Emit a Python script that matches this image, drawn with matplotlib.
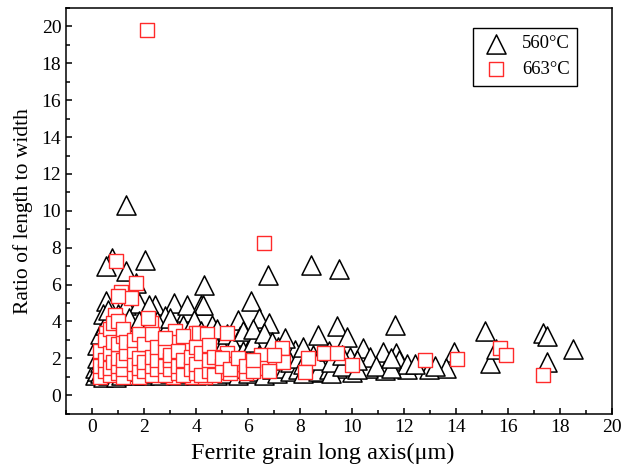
import numpy as np
import matplotlib
matplotlib.use("Agg")
import matplotlib.pyplot as plt
from matplotlib.ticker import MultipleLocator

# 560 C ferrite grains: long axis (um) and length/width ratio
x_560 = [
    1.3, 0.75, 0.55, 2.05, 1.3, 1.7, 4.3, 0.55, 2.4, 3.15, 4.2, 6.1, 3.6, 2.8,
    5.6, 6.4, 6.8, 4.6, 8.7, 9.4, 9.8, 8.4, 9.5, 6.75, 5.7, 7.8, 7.15, 8.95,
    11.65, 15.1, 17.35, 17.5, 18.5, 17.5, 15.3, 10.4, 11.2, 11.7, 13.9, 13.6,
    12.95, 12.1, 11.25, 10.6, 10.0, 9.4, 8.8, 11.8, 12.1, 9.9, 10.7, 15.55,
    6.1, 6.6, 4.25, 1.3, 1.8, 2.2, 3.65,
    0.1, 0.1, 0.2, 0.2, 0.2, 0.3, 0.3, 0.3, 0.4, 0.4, 0.4, 0.4,
    0.5, 0.5, 0.5, 0.5, 0.6, 0.6, 0.6, 0.6, 0.7, 0.7, 0.7,
    0.8, 0.8, 0.8, 0.8, 0.9, 0.9, 0.9, 1.0, 1.0, 1.0, 1.0,
    1.1, 1.1, 1.1, 1.2, 1.2, 1.2, 1.4, 1.4, 1.4, 1.4, 1.5, 1.5,
    1.6, 1.6, 1.6, 1.8, 1.8, 1.8, 1.8, 2.0, 2.0, 2.0, 2.1, 2.1,
    2.3, 2.3, 2.3, 2.5, 2.5, 2.5, 2.6, 2.6, 2.8, 2.8, 2.8,
    3.0, 3.0, 3.0, 3.0, 3.2, 3.2, 3.3, 3.3, 3.5, 3.5, 3.5, 3.7, 3.7,
    3.9, 3.9, 3.9, 4.0, 4.0, 4.2, 4.2, 4.2, 4.4, 4.4, 4.6, 4.6, 4.6,
    4.8, 4.8, 4.8, 5.0, 5.0, 5.2, 5.2, 5.2, 5.4, 5.4, 5.6, 5.6,
    5.8, 5.8, 5.8, 6.0, 6.0, 6.2, 6.2, 6.2, 6.4, 6.4, 6.6, 6.6, 6.6,
    6.9, 6.9, 6.9, 7.1, 7.1, 7.4, 7.4, 7.4, 7.6, 7.6, 7.9, 7.9,
    8.1, 8.1, 8.1, 8.5, 8.5, 8.7, 8.7, 9.1, 9.1, 9.2, 9.2, 9.6, 9.6,
    10.2, 10.2, 10.9, 11.5, 11.5, 12.4, 13.2,
]
y_560 = [
    10.3, 7.45, 7.0, 7.35, 6.75, 6.1, 6.0, 5.1, 4.9, 5.0, 4.9, 5.1, 4.5, 4.3,
    4.1, 4.2, 3.9, 3.8, 3.25, 3.75, 3.15, 7.05, 6.85, 6.5, 3.2, 2.45, 2.6, 1.8,
    3.8, 3.5, 3.4, 3.2, 2.5, 1.8, 1.75, 2.55, 2.35, 2.3, 2.35, 1.5,
    1.45, 1.45, 1.35, 1.5, 1.25, 1.5, 1.25, 1.9, 1.7, 2.05, 2.05, 2.5,
    2.8, 3.0, 4.9, 4.9, 5.0, 4.9, 4.9,
    1.1, 1.5, 1.3, 2.0, 2.7, 1.2, 1.8, 3.3, 1.0, 1.6, 2.4, 4.4,
    1.3, 2.1, 3.0, 3.8, 1.1, 1.7, 2.6, 4.6, 1.4, 2.2, 3.5,
    1.2, 1.9, 2.9, 4.1, 1.0, 1.6, 2.5, 1.3, 2.0, 3.2, 4.4,
    1.1, 1.8, 2.7, 1.5, 2.3, 3.7, 1.2, 1.9, 3.0, 4.2, 1.4, 2.6,
    1.1, 2.1, 3.4, 1.3, 1.7, 2.8, 4.0, 1.1, 2.2, 3.3, 1.5, 2.7,
    1.2, 1.9, 3.6, 1.4, 2.4, 4.0, 1.1, 3.0, 1.6, 2.2, 3.5,
    1.2, 1.9, 2.7, 4.2, 1.4, 3.2, 1.1, 2.3, 1.5, 2.0, 3.8, 1.2, 2.6,
    1.4, 3.0, 4.1, 1.1, 2.1, 1.6, 2.7, 3.5, 1.2, 1.9, 1.4, 2.4, 3.1,
    1.1, 1.8, 3.6, 1.5, 2.6, 1.2, 2.0, 3.3, 1.4, 2.8, 1.1, 1.8,
    1.5, 2.4, 3.5, 1.2, 2.0, 1.6, 2.9, 3.6, 1.3, 2.2, 1.1, 1.8, 3.4,
    1.4, 2.1, 2.9, 1.2, 1.9, 1.5, 2.3, 3.1, 1.3, 1.8, 1.4, 2.0,
    1.2, 1.7, 2.6, 1.5, 2.2, 1.3, 1.9, 1.4, 2.4, 1.2, 1.8, 1.6, 2.2,
    1.4, 1.9, 1.6, 1.5, 2.0, 1.7, 1.6,
]

# 663 C ferrite grains
x_663 = [
    2.1, 6.6, 0.9, 1.7, 1.1, 1.5, 1.0, 0.86, 2.27, 2.15, 3.2, 4.0, 4.1, 4.4,
    5.2, 7.3, 7.05, 8.3, 8.2, 8.9, 9.4, 10.0, 6.5, 6.5, 5.75, 5.2, 5.0, 5.45,
    3.85, 3.1, 4.35, 4.0, 3.65, 3.2, 2.65, 2.2, 1.75, 1.45, 1.47, 0.4, 0.6,
    0.6, 0.85, 2.6, 1.9, 1.1, 12.8, 14.05, 15.7, 15.9, 17.35, 7.35, 4.35,
    4.3, 4.95, 5.5, 0.55, 1.05, 2.2, 1.55, 2.65,
    0.3, 0.3, 0.3, 0.5, 0.5, 0.5, 0.7, 0.7, 0.7, 0.7, 0.8, 0.8, 0.8,
    1.0, 1.0, 1.0, 1.0, 1.0, 1.2, 1.2, 1.2, 1.2, 1.2, 1.3, 1.3,
    1.6, 1.6, 1.6, 1.6, 1.8, 1.8, 1.8, 1.8, 2.0, 2.0, 2.0,
    2.3, 2.3, 2.3, 2.3, 2.5, 2.5, 2.5, 2.8, 2.8, 2.8, 2.8,
    3.0, 3.0, 3.0, 3.3, 3.3, 3.3, 3.5, 3.5, 3.5, 3.8, 3.8,
    4.0, 4.0, 4.0, 4.2, 4.2, 4.5, 4.5, 4.5, 4.7, 4.7, 5.0, 5.0,
    5.3, 5.3, 5.6, 5.9, 5.9, 6.2, 6.2, 6.8, 7.0,
]
y_663 = [
    19.8, 8.25, 7.3, 6.1, 5.6, 5.25, 5.4, 4.35, 3.9, 4.2, 3.5, 3.35, 3.4, 3.3,
    3.35, 2.55, 1.8, 2.0, 1.25, 2.3, 2.3, 1.65, 2.2, 1.5, 1.35, 2.3, 1.25, 1.7,
    1.0, 1.0, 1.5, 2.0, 2.6, 2.9, 2.2, 2.55, 2.7, 2.1, 1.4, 1.2, 2.1,
    2.7, 3.1, 1.35, 2.3, 2.4, 1.9, 1.95, 2.55, 2.2, 1.1, 1.8, 1.0,
    1.5, 1.25, 1.7, 3.4, 3.0, 3.0, 2.0, 2.05,
    1.0, 1.6, 2.4, 1.3, 1.9, 3.0, 1.1, 1.5, 2.3, 3.6, 1.8, 2.9, 3.9,
    1.2, 1.6, 2.0, 2.8, 4.0, 1.0, 1.4, 1.9, 3.2, 3.6, 2.3, 2.9,
    1.2, 1.7, 2.4, 3.0, 1.0, 1.5, 2.0, 3.3, 1.3, 1.8, 2.8,
    1.1, 1.6, 2.1, 3.3, 1.4, 1.9, 2.6, 1.1, 1.6, 2.4, 3.1,
    1.4, 1.9, 2.2, 1.2, 1.6, 2.4, 1.1, 1.9, 3.2, 1.4, 2.1,
    1.2, 1.7, 2.6, 1.1, 2.3, 1.3, 1.9, 2.7, 1.1, 2.1, 1.6, 2.0,
    1.2, 1.4, 2.0, 1.2, 1.6, 1.3, 1.9, 1.3, 2.2,
]

x_ticks = np.arange(0, 21, 2)
y_ticks = np.arange(0, 21, 2)
labels = ['560°C', '663°C']


def main():
    plt.rcParams['font.family'] = ['Liberation Serif', 'DejaVu Serif']

    fig = plt.figure(figsize=(6.24, 4.68), dpi=100)
    ax = fig.add_axes([0.106, 0.116, 0.875, 0.867])

    ax.scatter(x_560, y_560, marker='^', s=190, facecolors='white',
               edgecolors='black', linewidths=1.1, label=labels[0], zorder=2)
    ax.scatter(x_663, y_663, marker='s', s=115, facecolors='white',
               edgecolors='#ff2a2a', linewidths=1.0, label=labels[1], zorder=3)

    ax.set_xlim(-1, 20)
    ax.set_ylim(-1, 21)
    ax.set_xticks(x_ticks)
    ax.set_yticks(y_ticks)
    ax.xaxis.set_minor_locator(MultipleLocator(1))
    ax.yaxis.set_minor_locator(MultipleLocator(1))
    ax.tick_params(which='both', direction='in', top=False, right=False,
                   labelsize=14, width=1.1)
    ax.tick_params(which='major', length=4.5)
    ax.tick_params(which='minor', length=2.7)
    for sp in ax.spines.values():
        sp.set_linewidth(1.1)

    ax.set_xlabel('Ferrite grain long axis(μm)', fontsize=17.5, labelpad=1)
    ax.xaxis.set_label_coords(0.47, -0.072)
    ax.set_ylabel('Ratio of length to width', fontsize=15.5, labelpad=6)

    leg = ax.legend(loc='upper right', bbox_to_anchor=(0.936, 0.951),
                    borderaxespad=0, fontsize=13.5, fancybox=False,
                    edgecolor='black', framealpha=1, handletextpad=0.6,
                    handlelength=1.6, borderpad=0.4, labelspacing=0.45)
    leg.get_frame().set_linewidth(1.0)

    fig.savefig('out.png', dpi=100)


if __name__ == "__main__":
    main()
